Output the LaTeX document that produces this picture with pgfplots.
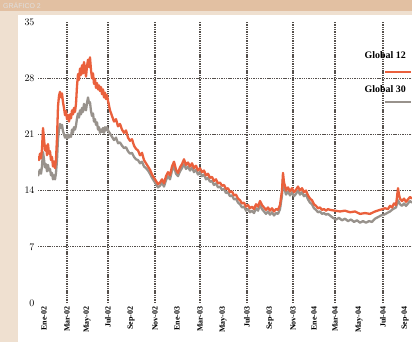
\documentclass[border=0pt]{standalone}
\usepackage{fontspec}
\setmainfont{Liberation Serif}
\setsansfont{Liberation Sans}
\usepackage{pgfplots}
\pgfplotsset{compat=1.18}
\definecolor{band}{RGB}{226,192,162}
\definecolor{strip}{RGB}{239,224,208}
\definecolor{gorange}{RGB}{234,96,60}
\definecolor{ggray}{RGB}{152,146,140}
\definecolor{gridc}{RGB}{85,80,76}
\begin{document}
\begin{tikzpicture}[x=1bp,y=1bp]
\useasboundingbox (0,0) rectangle (412,342);
\fill[strip] (0,0) rectangle (412,342);
\fill[band] (0,331) rectangle (412,342);
\fill[white] (18,0) rectangle (412,327);
\node[anchor=base west, font=\sffamily\scriptsize, text=white!75!gray, inner sep=0pt] at (3,333.5) {GRÁFICO 2};
\begin{axis}[
  at={(38bp,39bp)}, anchor=south west,
  scale only axis, width=374bp, height=281bp,
  xmin=38, xmax=412, ymin=0, ymax=35,
  axis line style={draw=none},
  major tick length=0pt,
  ytick={0,7,14,21,28,35},
  yticklabel style={font=\bfseries},
  xtick={44,67,87,108,131,155,177,200,223,247,270,293,314,335,359,383,405},
  xticklabels={Ene-02,Mar-02,May-02,Jul-02,Sep-02,Nov-02,Ene-03,Mar-03,May-03,Jul-03,Sep-03,Nov-03,Ene-04,Mar-04,May-04,Jul-04,Sep-04},
  xticklabel style={font=\bfseries\footnotesize, rotate=90, anchor=east},
  extra x ticks={67,108,155,200,247,293,335,383},
  extra x tick labels={},
  extra x tick style={grid=major, major tick length=0pt},
  extra y ticks={7,14,21,28},
  extra y tick labels={},
  extra y tick style={grid=major, major tick length=0pt},
  major grid style={gridc, line width=1.1pt, dash pattern=on 1.4pt off 0.9pt},
  clip=true,
]
\addplot[ggray, line width=2.3bp, line join=round] coordinates {
(38,15.8)(39,16.3)(40,16.6)(41,16.1)(42,17.0)(43,18.8)(44,17.9)(45,16.9)(46,17.3)(47,16.4)(48,17.2)(49,16.5)(50,16.7)(51,15.9)(52,16.2)(53,15.4)(54,15.9)(55,15.4)(56,16.2)(57,17.8)(58,20.5)(59,21.6)(60,22.3)(61,21.8)(62,22.2)(63,21.4)(64,21.0)(65,20.6)(66,20.9)(67,20.5)(68,21.0)(69,20.6)(70,20.9)(71,20.7)(72,21.6)(73,21.2)(74,21.9)(75,21.6)(76,22.1)(77,23.0)(78,23.6)(79,23.1)(80,24.0)(81,23.5)(82,24.3)(83,23.8)(84,24.8)(85,24.3)(86,24.0)(87,24.9)(88,25.6)(89,24.9)(90,25.0)(91,23.9)(92,23.3)(93,23.6)(94,22.6)(95,22.9)(96,22.2)(97,22.5)(98,21.6)(99,21.9)(100,21.2)(101,21.6)(102,21.3)(103,21.8)(104,21.2)(105,21.9)(106,21.5)(107,21.9)(108,21.5)(110,21.1)(112,20.7)(114,20.3)(116,20.6)(118,19.9)(120,20.0)(122,19.6)(124,19.3)(126,19.4)(128,18.9)(130,18.6)(132,18.7)(134,18.2)(136,17.9)(138,17.8)(140,17.4)(142,17.6)(144,17.0)(146,16.8)(148,16.5)(150,16.1)(152,15.6)(154,15.2)(156,14.8)(158,14.4)(160,14.6)(162,15.0)(164,14.5)(166,15.3)(168,15.8)(170,15.4)(172,16.5)(174,17.0)(176,16.1)(178,15.8)(180,16.4)(182,16.8)(184,17.3)(186,16.7)(188,17.0)(190,16.5)(192,16.9)(194,16.3)(196,16.6)(198,16.0)(200,16.3)(202,15.8)(204,16.0)(206,15.4)(208,15.6)(210,15.1)(212,15.2)(214,14.7)(216,14.9)(218,14.4)(220,14.5)(222,14.1)(224,14.2)(226,13.7)(228,13.8)(230,13.3)(232,13.4)(234,12.9)(236,13.0)(238,12.5)(240,12.3)(242,11.9)(244,12.0)(246,11.5)(248,11.7)(250,11.3)(252,11.5)(254,11.2)(256,11.8)(258,11.5)(260,12.2)(262,11.7)(264,11.4)(266,11.1)(268,11.4)(270,11.0)(272,11.3)(274,10.9)(276,11.2)(278,11.1)(280,11.7)(282,13.4)(283,15.5)(284,14.4)(285,14.0)(286,13.5)(288,13.9)(290,13.4)(292,13.8)(294,13.3)(296,13.6)(298,14.0)(300,13.5)(302,13.8)(304,13.3)(306,13.5)(308,12.9)(310,12.5)(312,12.3)(314,11.8)(316,11.6)(318,11.3)(320,11.4)(322,11.1)(324,11.2)(326,11.0)(328,11.1)(330,10.9)(333,10.6)(336,10.4)(339,10.6)(342,10.3)(345,10.5)(348,10.2)(351,10.4)(354,10.1)(357,10.3)(360,10.0)(363,10.2)(366,10.0)(369,10.2)(372,10.1)(375,10.5)(378,10.7)(381,10.9)(384,11.0)(387,11.2)(390,11.4)(393,11.7)(396,11.9)(398,12.8)(400,12.3)(402,12.1)(404,12.4)(406,12.1)(408,12.4)(410,12.7)(412,12.5)
};
\addplot[gorange, line width=2.3bp, line join=round] coordinates {
(38,18.3)(39,17.8)(40,18.6)(41,18.0)(42,19.2)(43,21.8)(44,20.5)(45,19.0)(46,19.6)(47,18.4)(48,19.8)(49,18.6)(50,18.9)(51,17.8)(52,18.2)(53,17.0)(54,17.6)(55,16.8)(56,17.9)(57,20.5)(58,24.5)(59,25.8)(60,26.3)(61,25.6)(62,26.1)(63,25.0)(64,24.3)(65,23.4)(66,23.9)(67,22.9)(68,23.4)(69,22.6)(70,23.5)(71,23.0)(72,24.0)(73,23.5)(74,24.3)(75,23.8)(76,24.8)(77,27.0)(78,28.5)(79,27.8)(80,29.2)(81,28.4)(82,29.6)(83,28.6)(84,30.0)(85,29.2)(86,28.2)(87,29.5)(88,30.3)(89,29.4)(90,30.6)(91,29.0)(92,28.0)(93,28.6)(94,27.3)(95,27.9)(96,26.8)(97,27.4)(98,26.6)(99,27.1)(100,26.4)(101,26.9)(102,26.0)(103,26.6)(104,25.6)(105,26.2)(106,25.4)(107,25.9)(108,25.2)(110,24.0)(112,23.3)(114,22.6)(116,22.9)(118,22.0)(120,22.3)(122,21.6)(124,21.2)(126,21.5)(128,20.6)(130,20.2)(132,20.4)(134,19.6)(136,19.2)(138,19.0)(140,18.4)(142,18.7)(144,17.8)(146,17.4)(148,17.0)(150,16.6)(152,16.0)(154,15.6)(156,15.2)(158,14.8)(160,15.0)(162,15.4)(164,14.9)(166,15.8)(168,16.3)(170,15.9)(172,17.0)(174,17.6)(176,16.6)(178,16.2)(180,16.9)(182,17.3)(184,17.9)(186,17.2)(188,17.5)(190,17.0)(192,17.4)(194,16.8)(196,17.1)(198,16.5)(200,16.8)(202,16.3)(204,16.5)(206,15.9)(208,16.1)(210,15.6)(212,15.7)(214,15.2)(216,15.4)(218,14.9)(220,15.0)(222,14.6)(224,14.7)(226,14.2)(228,14.3)(230,13.8)(232,13.9)(234,13.4)(236,13.5)(238,13.0)(240,12.8)(242,12.4)(244,12.5)(246,12.0)(248,12.2)(250,11.8)(252,12.0)(254,11.7)(256,12.3)(258,12.0)(260,12.7)(262,12.2)(264,11.9)(266,11.6)(268,11.9)(270,11.5)(272,11.8)(274,11.4)(276,11.7)(278,11.6)(280,12.2)(282,14.0)(283,16.2)(284,15.0)(285,14.6)(286,14.0)(288,14.4)(290,13.9)(292,14.3)(294,13.8)(296,14.1)(298,14.5)(300,14.0)(302,14.3)(304,13.8)(306,14.0)(308,13.4)(310,13.0)(312,12.8)(314,12.3)(316,12.1)(318,11.8)(320,11.9)(322,11.6)(324,11.7)(326,11.5)(328,11.7)(330,11.6)(335,11.5)(340,11.4)(345,11.5)(350,11.3)(355,11.4)(360,11.1)(365,11.2)(370,11.1)(375,11.4)(380,11.6)(385,11.8)(388,11.7)(390,12.1)(392,11.9)(394,12.4)(396,12.2)(397,13.2)(398,14.3)(399,13.5)(400,13.0)(402,12.7)(404,13.0)(406,12.6)(408,12.9)(410,13.2)(412,13.0)
};
\end{axis}
\node[anchor=east, font=\bfseries, inner sep=0pt] at (406,287) {Global 12};
\draw[gorange, line width=2.4bp] (385,270) -- (411,270);
\node[anchor=east, font=\bfseries, inner sep=0pt] at (406,253) {Global 30};
\draw[ggray, line width=2.4bp] (385,240) -- (411,240);
\end{tikzpicture}
\end{document}
